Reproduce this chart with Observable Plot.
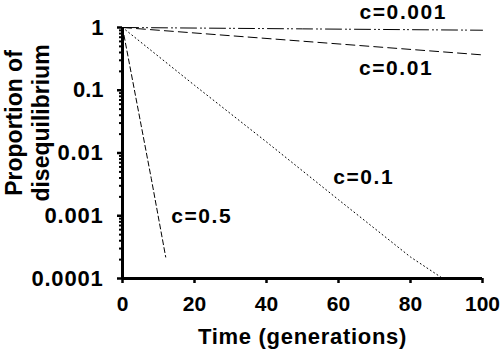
<!DOCTYPE html>
<html><head><meta charset="utf-8">
<script src="https://cdn.jsdelivr.net/npm/d3@7"></script>
<script src="https://cdn.jsdelivr.net/npm/@observablehq/plot@0.6"></script>
<style>
body{margin:0;background:#fff}
#chart svg{font-family:"Liberation Sans",Arial,sans-serif;font-weight:bold}
</style>
</head><body><div id="chart"></div>
<script>
// Series labels
const seriesNames = ["c=0.001", "c=0.01", "c=0.1", "c=0.5"];
// Values (time in generations, proportion of disequilibrium)
const t_c0001 = [0, 50, 100];
const d_c0001 = [1, 0.951, 0.905];
const t_c001 = [0, 50, 100];
const d_c001 = [1, 0.605, 0.366];
const t_c01 = [0, 20, 40, 60, 80, 89];
const d_c01 = [1, 0.12, 0.015, 0.0018, 0.00022, 0.0001];
const t_c05 = [0, 4, 8, 12];
const d_c05 = [1, 0.0625, 0.0039, 0.00022];
// Axis ticks and labels
const xTicks = [0, 20, 40, 60, 80, 100];
const yTicks = [1, 0.1, 0.01, 0.001, 0.0001];
const yTickLabels = ["1", "0.1", "0.01", "0.001", "0.0001"];
const xTitle = "Time (generations)";
const yTitleLines = ["Proportion of", "disequilibrium"];
// Where the series labels sit (data units)
const labelT = [78, 76, 67, 22];
const labelD = [1.73, 0.227, 0.0041, 0.00098];

const minorTicks = [];
for (const dec of [0.0001, 0.001, 0.01, 0.1]) for (let k = 2; k <= 9; k++) minorTicks.push(dec * k);

const rows = (ts, ds, s) => ts.map((t, i) => ({t, d: ds[i], s}));
const sData = [rows(t_c0001, d_c0001, seriesNames[0]), rows(t_c001, d_c001, seriesNames[1]),
               rows(t_c01, d_c01, seriesNames[2]), rows(t_c05, d_c05, seriesNames[3])];
const dashes = ["16,4,1,3,1,4", "9,5", "1,3", "5,3"];
const labels = seriesNames.map((s, i) => ({s, t: labelT[i], d: labelD[i]}));

const chart = Plot.plot({
  width: 503, height: 359,
  marginLeft: 122, marginRight: 21, marginTop: 27, marginBottom: 81,
  style: {background: "white", color: "black", fontFamily: "Liberation Sans, Arial, sans-serif", fontWeight: "bold"},
  x: {domain: [0, 100]},
  y: {type: "log", domain: [0.0001, 1]},
  marks: [
    ...sData.map((d, i) => Plot.line(d, {x: "t", y: "d", stroke: "black", strokeWidth: 1, strokeDasharray: dashes[i]})),
    Plot.axisX(xTicks, {tickSize: 5, tickPadding: 13, strokeWidth: 2.5, fontSize: 21, label: null, tickFormat: d => String(d)}),
    Plot.axisY(minorTicks, {tickSize: 3, strokeWidth: 2, tickFormat: () => "", label: null}),
    Plot.axisY(yTicks, {tickSize: 5, tickPadding: 14, strokeWidth: 2.5, fontSize: 22, label: null, tickFormat: d => yTickLabels[yTicks.indexOf(d)]}),
    Plot.ruleX([0], {strokeWidth: 3}),
    Plot.ruleY([0.0001], {strokeWidth: 3}),
    Plot.text(labels, {x: "t", y: "d", text: "s", fontSize: 21, fill: "black"}),
    Plot.text([xTitle], {frameAnchor: "bottom", dy: 65, fontSize: 22, fill: "black"}),
    Plot.text([yTitleLines[0]], {frameAnchor: "left", textAnchor: "middle", dx: -108, dy: -30, rotate: -90, fontSize: 23, fill: "black"}),
    Plot.text([yTitleLines[1]], {frameAnchor: "left", textAnchor: "middle", dx: -81, dy: -30, rotate: -90, fontSize: 23, fill: "black"})
  ]
});
// widen the letter spacing of the annotation and title texts to match the reference
d3.select(chart).selectAll("text").each(function() {
  const s = this.textContent;
  if (seriesNames.includes(s)) this.setAttribute("letter-spacing", "1.6");
  else if (s === xTitle) this.setAttribute("letter-spacing", "0.7");
  else if (s === "0.0001" || s === "0.001" || s === "0.01") this.setAttribute("letter-spacing", "0.8");
});
document.getElementById("chart").append(chart);
</script>
</body></html>
